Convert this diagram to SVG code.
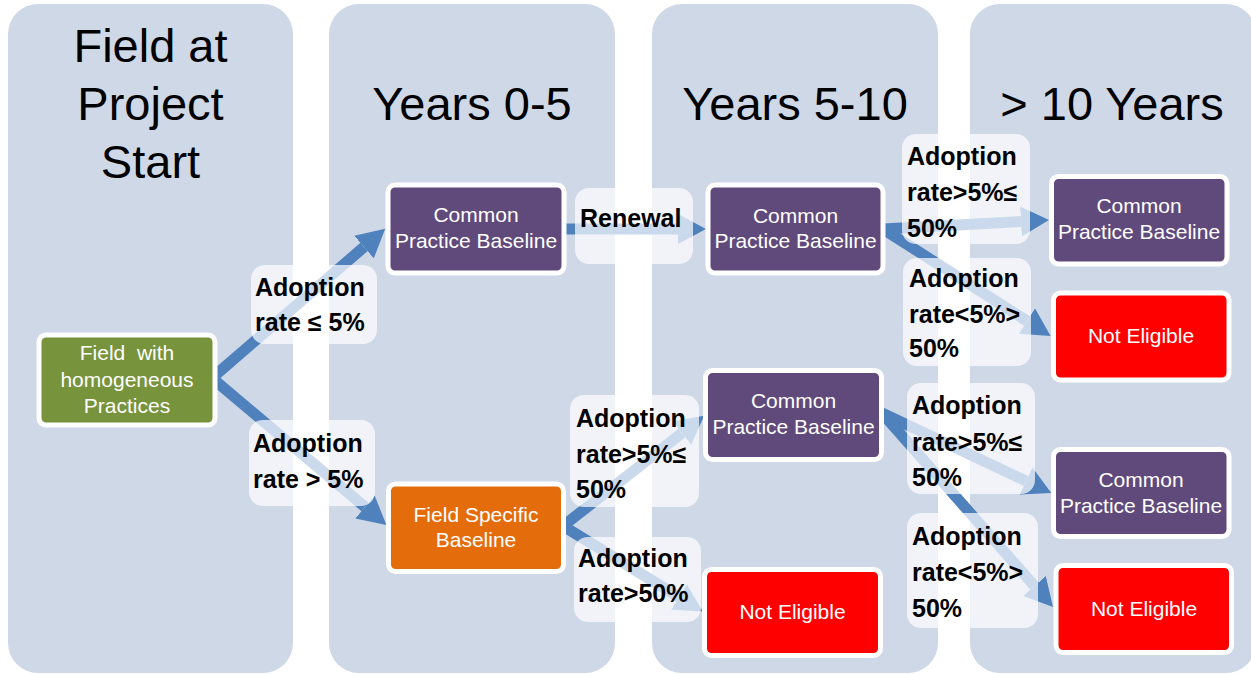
<svg xmlns="http://www.w3.org/2000/svg" width="1251" height="674" viewBox="0 0 1251 674">
<style>
.col{fill:#CFD8E7}
.hdr{font-family:"Liberation Sans",Arial,sans-serif;font-size:47px;fill:#000;text-anchor:middle}
.node{stroke:#fff;stroke-width:5}
.purple{fill:#604A7B}
.green{fill:#77933C}
.orange{fill:#E46C0A}
.red{fill:#FF0000}
.nt{font-family:"Liberation Sans",Arial,sans-serif;font-size:21px;fill:#fff;text-anchor:middle}
.lbox{fill:#fff;fill-opacity:0.7}
.lt{font-family:"Liberation Sans",Arial,sans-serif;font-size:25px;font-weight:bold;fill:#000}
.arr{stroke:#4F81BD;stroke-width:11;fill:none;marker-end:url(#head)}
</style>
<defs>
<marker id="head" viewBox="0 0 28 30" refX="0" refY="15" markerUnits="strokeWidth" markerWidth="2.545" markerHeight="2.727" orient="auto">
<path d="M0,0 L28,15 L0,30 z" fill="#4F81BD"/>
</marker>
</defs>
<g id="columns">
<rect class="col" x="8" y="4" width="285" height="669" rx="30"/>
<rect class="col" x="329" y="4" width="286" height="669" rx="30"/>
<rect class="col" x="652" y="4" width="286" height="669" rx="30"/>
<rect class="col" x="970" y="4" width="286" height="669" rx="30"/>
<text class="hdr" x="150.5" y="62">Field at</text>
<text class="hdr" x="150.5" y="120">Project</text>
<text class="hdr" x="150.5" y="178">Start</text>
<text class="hdr" x="472" y="120">Years 0-5</text>
<text class="hdr" x="795" y="120">Years 5-10</text>
<text class="hdr" x="1112" y="120">&gt; 10 Years</text>
</g>
<g id="connectors">
<line class="arr" x1="212" y1="378" x2="364" y2="247"/>
<line class="arr" x1="212" y1="378" x2="365" y2="507"/>
<line class="arr" x1="564" y1="229" x2="678" y2="229"/>
<line class="arr" x1="563" y1="526" x2="682" y2="433"/>
<line class="arr" x1="563" y1="526" x2="679" y2="597"/>
<line class="arr" x1="883" y1="229" x2="1021" y2="221.5"/>
<line class="arr" x1="883" y1="229" x2="1027" y2="321"/>
<line class="arr" x1="882" y1="413" x2="1026" y2="481"/>
<line class="arr" x1="882" y1="413" x2="1034.5" y2="586"/>
</g>
<g id="labels">
<g id="label-adopt-le5">
<rect class="lbox" x="251" y="265" width="126" height="79" rx="14"/>
<text class="lt" x="255" y="296">Adoption</text>
<text class="lt" x="255" y="331">rate ≤ 5%</text>
</g>
<g id="label-adopt-gt5">
<rect class="lbox" x="249" y="420" width="126" height="86" rx="14"/>
<text class="lt" x="253" y="452">Adoption</text>
<text class="lt" x="253" y="488">rate &gt; 5%</text>
</g>
<g id="label-renewal">
<rect class="lbox" x="575" y="188" width="118" height="76" rx="14"/>
<text class="lt" x="580" y="227">Renewal</text>
</g>
<g id="label-fsb-5-50">
<rect class="lbox" x="570" y="395" width="129" height="112" rx="14"/>
<text class="lt" x="576" y="427">Adoption</text>
<text class="lt" x="576" y="463">rate&gt;5%≤</text>
<text class="lt" x="576" y="498">50%</text>
</g>
<g id="label-fsb-gt50">
<rect class="lbox" x="574" y="537" width="127" height="85" rx="14"/>
<text class="lt" x="578" y="567">Adoption</text>
<text class="lt" x="578" y="602">rate&gt;50%</text>
</g>
<g id="label-top-5-50">
<rect class="lbox" x="902" y="134" width="128" height="110" rx="14"/>
<text class="lt" x="907" y="165">Adoption</text>
<text class="lt" x="907" y="201">rate&gt;5%≤</text>
<text class="lt" x="907" y="237">50%</text>
</g>
<g id="label-top-lt5">
<rect class="lbox" x="903" y="258" width="128" height="108" rx="14"/>
<text class="lt" x="909" y="287">Adoption</text>
<text class="lt" x="909" y="323">rate&lt;5%&gt;</text>
<text class="lt" x="909" y="357">50%</text>
</g>
<g id="label-bot-5-50">
<rect class="lbox" x="907" y="383" width="128" height="111" rx="14"/>
<text class="lt" x="912" y="414">Adoption</text>
<text class="lt" x="912" y="451">rate&gt;5%≤</text>
<text class="lt" x="912" y="486">50%</text>
</g>
<g id="label-bot-lt5">
<rect class="lbox" x="907" y="513" width="131" height="115" rx="14"/>
<text class="lt" x="912" y="545">Adoption</text>
<text class="lt" x="912" y="581">rate&lt;5%&gt;</text>
<text class="lt" x="912" y="617">50%</text>
</g>
</g>
<g id="node-field">
<rect class="node green" x="39" y="335" width="176" height="90" rx="7"/>
<text class="nt" x="127" y="360" style="white-space:pre">Field  with</text>
<text class="nt" x="127" y="387">homogeneous</text>
<text class="nt" x="127" y="413">Practices</text>
</g>
<g id="node-cpb-0-5">
<rect class="node purple" x="388" y="185" width="176" height="88" rx="7"/>
<text class="nt" x="476" y="222">Common</text>
<text class="nt" x="476" y="248">Practice Baseline</text>
</g>
<g id="node-fsb">
<rect class="node orange" x="388.5" y="484" width="175" height="87.5" rx="7"/>
<text class="nt" x="476" y="522">Field Specific</text>
<text class="nt" x="476" y="547">Baseline</text>
</g>
<g id="node-cpb-5-10-top">
<rect class="node purple" x="708" y="185" width="175" height="88" rx="7"/>
<text class="nt" x="795.5" y="223">Common</text>
<text class="nt" x="795.5" y="248">Practice Baseline</text>
</g>
<g id="node-cpb-5-10-bottom">
<rect class="node purple" x="705.5" y="370.5" width="176" height="89" rx="7"/>
<text class="nt" x="793.5" y="408">Common</text>
<text class="nt" x="793.5" y="434">Practice Baseline</text>
</g>
<g id="node-ne-5-10">
<rect class="node red" x="704.5" y="569.5" width="176" height="86" rx="7"/>
<text class="nt" x="792.5" y="619">Not Eligible</text>
</g>
<g id="node-cpb-10-top">
<rect class="node purple" x="1051.5" y="176.5" width="175.5" height="87.5" rx="7"/>
<text class="nt" x="1139" y="213">Common</text>
<text class="nt" x="1139" y="239">Practice Baseline</text>
</g>
<g id="node-ne-10-top">
<rect class="node red" x="1053.5" y="293" width="175.5" height="87" rx="7"/>
<text class="nt" x="1141" y="343">Not Eligible</text>
</g>
<g id="node-cpb-10-bottom">
<rect class="node purple" x="1053.5" y="449.5" width="175.5" height="87" rx="7"/>
<text class="nt" x="1141" y="487">Common</text>
<text class="nt" x="1141" y="513">Practice Baseline</text>
</g>
<g id="node-ne-10-bottom">
<rect class="node red" x="1056" y="565.5" width="175.5" height="87" rx="7"/>
<text class="nt" x="1144" y="616">Not Eligible</text>
</g>
</svg>
